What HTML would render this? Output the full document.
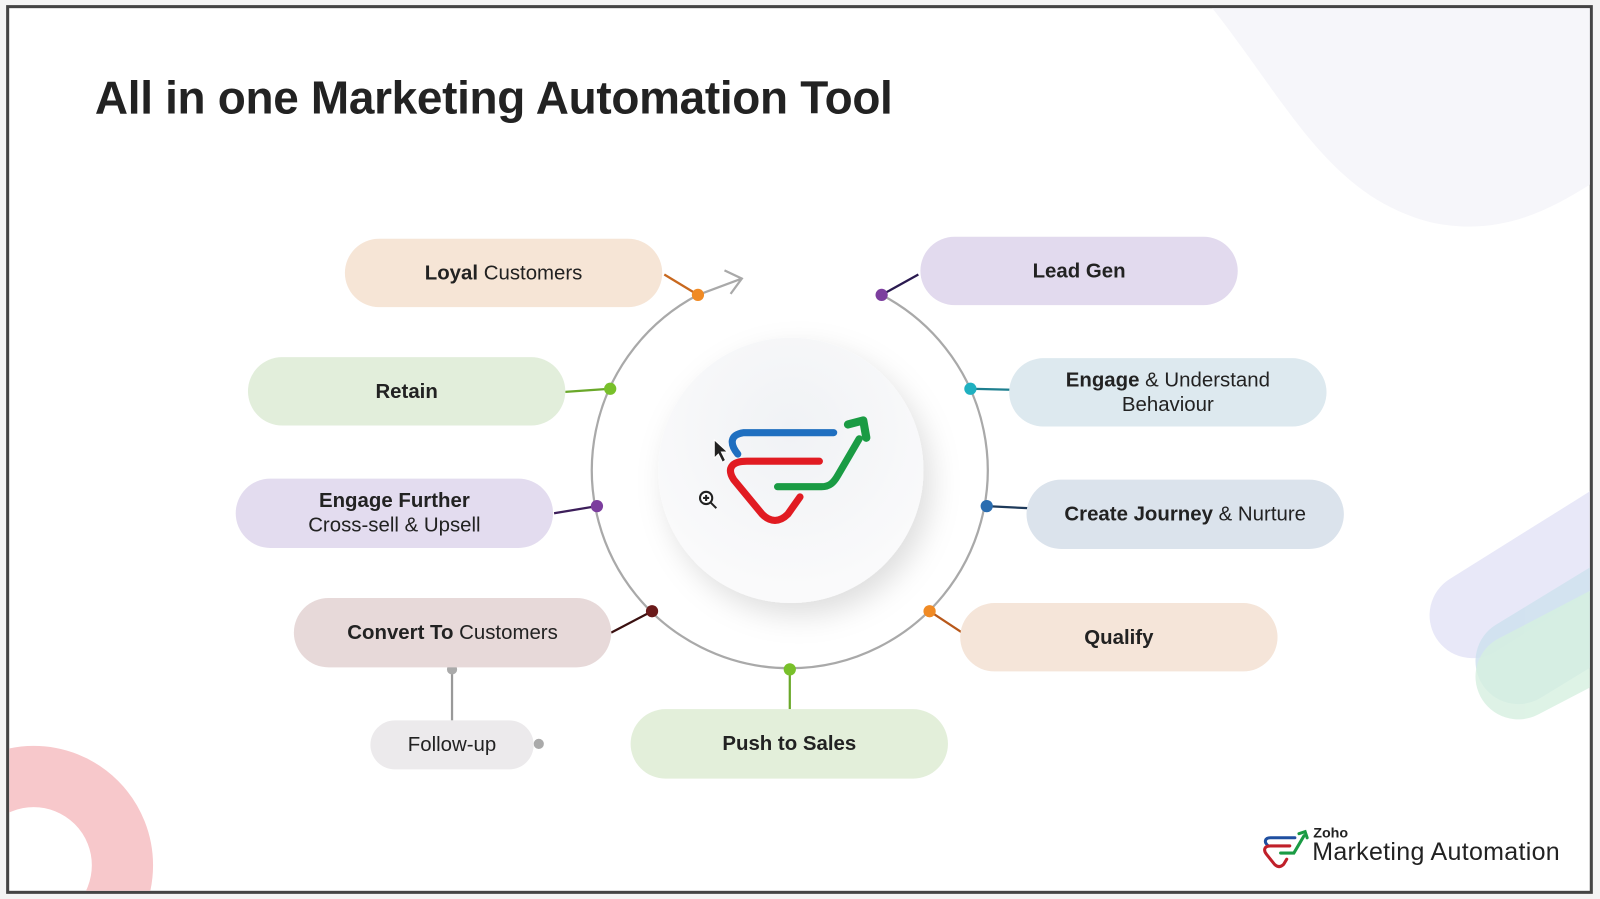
<!DOCTYPE html>
<html><head><meta charset="utf-8"><style>
html,body{margin:0;padding:0;width:1600px;height:899px;overflow:hidden;background:#f4f4f4;font-family:"Liberation Sans",Arial,sans-serif;}
#wrap{position:absolute;left:0;top:0;width:1568px;height:878px;transform:scale(1.0204);transform-origin:0 0;overflow:hidden;}
#frame{position:absolute;left:6px;top:5px;width:1549px;height:865px;border:3px solid #444;background:#fff;overflow:hidden;}
.p{position:absolute;border-radius:34px;display:flex;align-items:center;justify-content:center;text-align:center;font-size:20px;color:#222;line-height:24px;}
.p b{font-weight:bold;}
h1{position:absolute;left:84px;top:62px;margin:0;font-size:45px;font-weight:bold;color:#222;letter-spacing:-0.3px;}
svg{position:absolute;left:0;top:0;}
</style></head><body>
<div id="wrap">
<div id="frame">
<svg width="1551" height="867" viewBox="6 5 1551 867">
 <defs>
  <radialGradient id="g" cx="50%" cy="35%" r="60%"><stop offset="0" stop-color="#f0f2f5"/><stop offset="1" stop-color="#fafafb"/></radialGradient>
  <filter id="sh" x="-30%" y="-30%" width="160%" height="160%"><feDropShadow dx="8" dy="12" stdDeviation="14" flood-color="#000" flood-opacity="0.13"/></filter>
 </defs>
 <path d="M1185 5 C1260 100 1300 190 1400 215 C1470 230 1520 200 1560 175 L1560 5 Z" fill="#f6f6fa"/>
 <line x1="1440" y1="600" x2="1600" y2="500" stroke="#e8e8f8" stroke-width="84" stroke-linecap="round"/>
 <line x1="1485" y1="645" x2="1600" y2="575" stroke="#cfe2ef" stroke-width="84" stroke-linecap="round" opacity="0.85"/>
 <line x1="1485" y1="660" x2="1600" y2="600" stroke="#d6f0e0" stroke-width="84" stroke-linecap="round" opacity="0.8"/>
 <circle cx="30" cy="845" r="87" fill="none" stroke="#f7c8cb" stroke-width="60"/>
 <path d="M681 286 A194 194 0 1 0 861 286" fill="none" stroke="#a9a9a9" stroke-width="2.2"/>
 <path d="M681 286 L724 270" stroke="#a9a9a9" stroke-width="2.2" fill="none"/>
 <path d="M707 262 L724 270 L713 285" stroke="#a9a9a9" stroke-width="2.2" fill="none"/>
 <circle cx="772" cy="458" r="130" fill="url(#g)" filter="url(#sh)"/>
 <g transform="translate(-16,-6)">
 <g fill="none" stroke-linecap="round" stroke-linejoin="round" stroke-width="7">
  <path d="M736 448 C728 438 728 429 742 427 L830 427" stroke="#1f6fc0"/>
  <path d="M816 455 L745 455 C730 455 725 462 732 473 L760 507 C768 515 777 515 785 507 L797 490" stroke="#e11b22"/>
  <path d="M775 480 L818 480 C826 480 830 476 834 469 L855 433" stroke="#1a9b44"/>
  <path d="M844 419 L859 415 L862 432" stroke="#1a9b44" stroke-width="8"/>
 </g>
 <path d="M713 434 L713 452 L717 448 L721 456 L724 454 L720 446 L726 446 Z" fill="#222" stroke="#fff" stroke-width="1"/>
 <g transform="translate(3,-2)">
 <circle cx="702" cy="493" r="6" fill="#fff" stroke="#222" stroke-width="2"/>
 <path d="M699 493h6M702 490v6M706 497l6 6" stroke="#222" stroke-width="2"/>
 </g>
 </g>
 <g stroke-width="2.2">
  <line x1="648" y1="266" x2="681" y2="286" stroke="#c8681e"/>
  <line x1="897" y1="266" x2="861" y2="286" stroke="#2a1a50"/>
  <line x1="551" y1="381" x2="595" y2="378" stroke="#6aa82a"/>
  <line x1="988" y1="379" x2="948" y2="378" stroke="#1e7f8f"/>
  <line x1="540" y1="500" x2="582" y2="493" stroke="#3c1e5a"/>
  <line x1="1004" y1="495" x2="964" y2="493" stroke="#1e3a5a"/>
  <line x1="596" y1="617" x2="636" y2="596" stroke="#3a1010"/>
  <line x1="940" y1="617" x2="908" y2="596" stroke="#b8581a"/>
  <line x1="771" y1="653" x2="771" y2="692" stroke="#6aa82a"/>
  <line x1="440" y1="653" x2="440" y2="703" stroke="#999"/>
 </g>
 <circle cx="681" cy="286" r="6" fill="#f08a24"/>
 <circle cx="861" cy="286" r="6" fill="#7c3e9e"/>
 <circle cx="595" cy="378" r="6" fill="#78c02a"/>
 <circle cx="948" cy="378" r="6" fill="#1fb0c0"/>
 <circle cx="582" cy="493" r="6" fill="#7c3e9e"/>
 <circle cx="964" cy="493" r="6" fill="#2a6db0"/>
 <circle cx="636" cy="596" r="6" fill="#6a1a1a"/>
 <circle cx="908" cy="596" r="6" fill="#f08a24"/>
 <circle cx="771" cy="653" r="6" fill="#78c02a"/>
 <circle cx="440" cy="653" r="5" fill="#aaa"/>
 <circle cx="525" cy="726" r="5" fill="#aaa"/>
 <g fill="none" stroke-linecap="round" stroke-width="3">
  <path d="M1240 826 C1235 822 1237 818 1242 818 L1266 818" stroke="#1f4fa0"/>
  <path d="M1261 826 L1242 826 C1236 826 1235 830 1238 834 L1246 844 C1249 847 1252 847 1255 844 L1258 839" stroke="#c0202a"/>
  <path d="M1252 833 L1265 833 L1275 816" stroke="#1a9b44"/>
  <path d="M1270 814 L1276 812 L1278 818" stroke="#1a9b44"/>
 </g>
 <text x="1284" y="818" font-family="Liberation Sans, sans-serif" font-size="14" font-weight="bold" fill="#222">Zoho</text>
 <text x="1283" y="840" font-family="Liberation Sans, sans-serif" font-size="24.5" fill="#222" letter-spacing="0.3">Marketing Automation</text>
</svg>
<h1>All in one Marketing Automation Tool</h1>
<div style="position:absolute;left:-6px;top:-5px;">
 <div class="p" style="left:335px;top:231px;width:311px;height:67px;background:#f6e5d6"><span><b>Loyal</b> Customers</span></div>
 <div class="p" style="left:899px;top:229px;width:311px;height:67px;background:#e2daee"><b>Lead Gen</b></div>
 <div class="p" style="left:240px;top:347px;width:311px;height:67px;background:#e2eedb"><b>Retain</b></div>
 <div class="p" style="left:986px;top:348px;width:311px;height:67px;background:#dde9ef"><span><b>Engage</b> &amp; Understand<br>Behaviour</span></div>
 <div class="p" style="left:228px;top:466px;width:311px;height:68px;background:#e3dcef"><span><b>Engage Further</b><br>Cross-sell &amp; Upsell</span></div>
 <div class="p" style="left:1003px;top:467px;width:311px;height:68px;background:#dbe3ec"><span><b>Create Journey</b> &amp; Nurture</span></div>
 <div class="p" style="left:285px;top:583px;width:311px;height:68px;background:#e7d9d9"><span><b>Convert To</b> Customers</span></div>
 <div class="p" style="left:938px;top:588px;width:311px;height:67px;background:#f5e5d9"><b>Qualify</b></div>
 <div class="p" style="left:615px;top:692px;width:311px;height:68px;background:#e3efda"><b>Push to Sales</b></div>
 <div class="p" style="left:360px;top:703px;width:160px;height:48px;background:#eceaec">Follow-up</div>
</div>
</div>
</div>
</body></html>
